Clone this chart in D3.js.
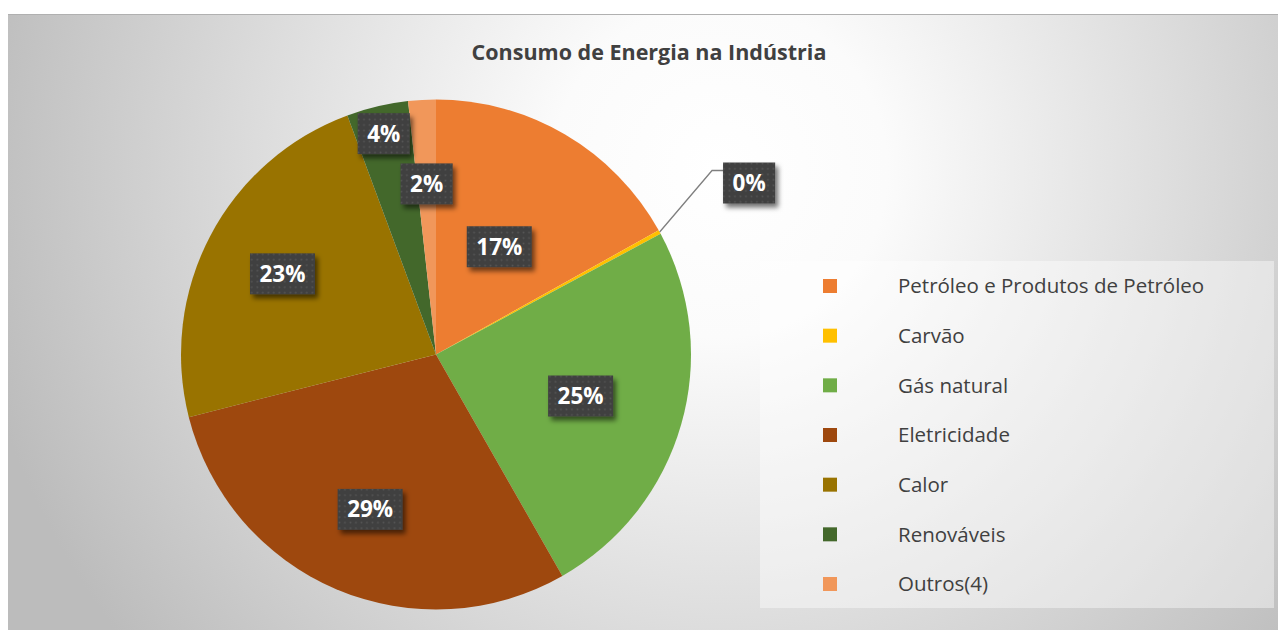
<!DOCTYPE html>
<html>
<head>
<meta charset="utf-8">
<script src="https://cdn.jsdelivr.net/npm/d3@7"></script>
<style>
  html, body { margin: 0; padding: 0; background: #ffffff; }
  svg { display: block; }
</style>
</head>
<body>
<svg id="chart" width="1279" height="630"></svg>
<script>
// Energy consumption in industry, by source
const categories = [
  "Petróleo e Produtos de Petróleo",
  "Carvão",
  "Gás natural",
  "Eletricidade",
  "Calor",
  "Renováveis",
  "Outros(4)"
];
const values = [16.9, 0.25, 24.6, 29.3, 23.3, 3.9, 1.75];
const colors = ["#ED7D31", "#FFC000", "#70AD47", "#9E480E", "#997300", "#43682B", "#F1975A"];
const titleText = "Consumo de Energia na Indústria";

// label placement (fraction of the radius along each slice's mid angle)
const labelRadius = [0.49, 1.40, 0.59, 0.66, 0.68, 0.89, 0.67];

const W = 1279, H = 630;
const svg = d3.select("#chart");
const defs = svg.append("defs");

// chart background: radial gradient, white toward the upper middle, grey at the corners
const bg = defs.append("radialGradient")
  .attr("id", "bgGrad")
  .attr("gradientUnits", "userSpaceOnUse")
  .attr("cx", 720).attr("cy", 170).attr("r", 760);
bg.append("stop").attr("offset", 0).attr("stop-color", "#ffffff");
bg.append("stop").attr("offset", 0.22).attr("stop-color", "#fbfbfb");
bg.append("stop").attr("offset", 0.6).attr("stop-color", "#dddddd");
bg.append("stop").attr("offset", 1).attr("stop-color", "#bcbcbc");

// dotted fill for the data label boxes
const pat = defs.append("pattern")
  .attr("id", "dots")
  .attr("patternUnits", "userSpaceOnUse")
  .attr("width", 5.5).attr("height", 5.5);
pat.append("rect").attr("width", 5.5).attr("height", 5.5).attr("fill", "#404040");
pat.append("rect").attr("x", 1.5).attr("y", 1.5).attr("width", 1.6).attr("height", 1.6).attr("fill", "#565656");

const shadow = defs.append("filter").attr("id", "shadow")
  .attr("x", "-30%").attr("y", "-30%").attr("width", "170%").attr("height", "170%");
shadow.append("feDropShadow")
  .attr("dx", 3).attr("dy", 4).attr("stdDeviation", 2.5)
  .attr("flood-color", "#000").attr("flood-opacity", 0.55);

// chart area
svg.append("rect")
  .attr("x", 8).attr("y", 14).attr("width", W - 9).attr("height", H - 14)
  .attr("fill", "url(#bgGrad)");
svg.append("line")
  .attr("x1", 8).attr("x2", W - 1).attr("y1", 14.5).attr("y2", 14.5)
  .attr("stroke", "#b0b0b0").attr("stroke-width", 1);

// title
svg.append("text")
  .attr("x", 649).attr("y", 60)
  .attr("text-anchor", "middle")
  .attr("font-family", "'Open Sans', sans-serif")
  .attr("font-weight", "bold")
  .attr("font-size", 21.5)
  .attr("fill", "#404040")
  .text(titleText);

// pie
const cx = 436, cy = 354.5, R = 255;
const data = categories.map((c, i) => ({ name: c, value: values[i], color: colors[i], lr: labelRadius[i] }));
const total = d3.sum(values);
const fmt = d3.format(".0%");

const pie = d3.pie().value(d => d.value).sort(null).startAngle(0).endAngle(2 * Math.PI);
const arcs = pie(data);
const arc = d3.arc().innerRadius(0).outerRadius(R);

const g = svg.append("g").attr("transform", `translate(${cx},${cy})`);
g.selectAll("path.slice")
  .data(arcs)
  .join("path")
  .attr("class", "slice")
  .attr("d", arc)
  .attr("fill", d => d.data.color);

// data labels
const labelsG = g.append("g");
arcs.forEach((d, i) => {
  const mid = (d.startAngle + d.endAngle) / 2;
  const r = d.data.lr * R;
  const lx = Math.sin(mid) * r, ly = -Math.cos(mid) * r;
  const txt = fmt(d.data.value / total);

  const lg = labelsG.append("g").attr("transform", `translate(${lx},${ly})`);
  const t = lg.append("text")
    .attr("text-anchor", "middle")
    .attr("dy", "0.36em")
    .attr("font-family", "'Open Sans', sans-serif")
    .attr("font-weight", "bold")
    .attr("font-size", 22.5)
    .attr("fill", "#ffffff")
    .text(txt);
  const tw = t.node().getComputedTextLength();
  const bw = tw + 19, bh = 41;
  lg.insert("rect", "text")
    .attr("x", -bw / 2).attr("y", -bh / 2)
    .attr("width", bw).attr("height", bh)
    .attr("fill", "url(#dots)")
    .attr("filter", "url(#shadow)");

  // leader line for labels placed outside the pie
  if (d.data.lr > 1) {
    const sx = Math.sin(mid) * R, sy = -Math.cos(mid) * R;
    const ex = lx - bw / 2, ey = ly - bh / 2 + 8;
    labelsG.insert("path", ":first-child")
      .attr("d", d3.line()([[sx, sy], [ex - 11, ey], [ex, ey]]))
      .attr("fill", "none")
      .attr("stroke", "#7f7f7f")
      .attr("stroke-width", 1.3);
  }
});

// legend
const legX = 760, legY = 261, legW = 514, legH = 347;
svg.append("rect")
  .attr("x", legX).attr("y", legY).attr("width", legW).attr("height", legH)
  .attr("fill", "#ffffff").attr("fill-opacity", 0.42);

const rowY = d3.scalePoint().domain(categories).range([286, 584]);
const leg = svg.append("g");
const items = leg.selectAll("g.item").data(data).join("g")
  .attr("class", "item")
  .attr("transform", d => `translate(0,${rowY(d.name)})`);
items.append("rect")
  .attr("x", 823).attr("y", -7).attr("width", 14).attr("height", 14)
  .attr("fill", d => d.color);
items.append("text")
  .attr("x", 898).attr("dy", "0.36em")
  .attr("font-family", "'Open Sans', sans-serif")
  .attr("font-size", 20.5)
  .attr("fill", "#404040")
  .text(d => d.name);
</script>
</body>
</html>
